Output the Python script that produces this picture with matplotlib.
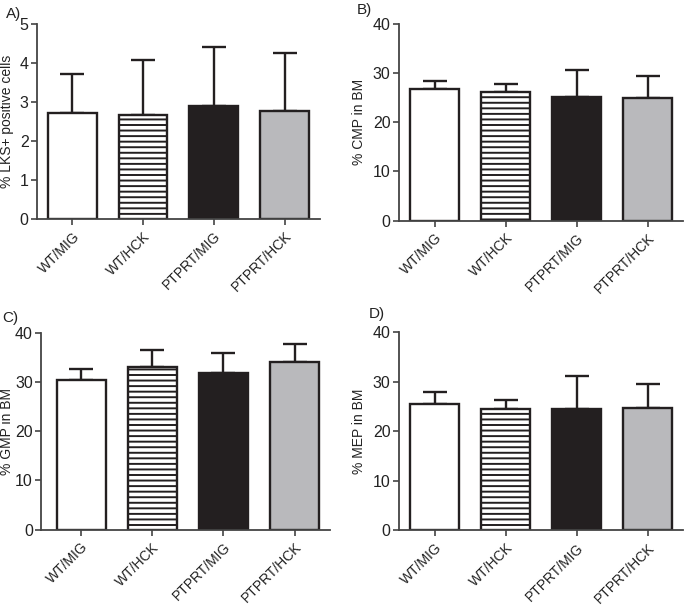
import numpy as np
import matplotlib.pyplot as plt
from matplotlib.transforms import ScaledTranslation

plt.rcParams['font.family'] = ['Liberation Sans', 'DejaVu Sans']
plt.rcParams['hatch.linewidth'] = 1.4
plt.rcParams['hatch.color'] = '#231f20'

# data
groups = ["WT/MIG", "WT/HCK", "PTPRT/MIG", "PTPRT/HCK"]
lks_mean = [2.71, 2.67, 2.88, 2.77]
lks_err = [0.99, 1.40, 1.51, 1.47]
cmp_mean = [26.7, 26.2, 25.2, 24.9]
cmp_err = [1.6, 1.6, 5.3, 4.5]
gmp_mean = [30.4, 33.0, 31.9, 34.1]
gmp_err = [2.2, 3.5, 4.0, 3.7]
mep_mean = [25.5, 24.6, 24.6, 24.8]
mep_err = [2.5, 1.8, 6.6, 4.8]

fills = ["white", "white", "#231f20", "#b9b9bc"]
hatches = [None, "---", None, None]
ink = "#231f20"

fig = plt.figure(figsize=(6.85, 6.06), dpi=100)

# tag, ylabel, data, ymax, step, axes rect, xmin, tag offset (px), ylabel x (px from spine)
panels = [
    ("A)", "% LKS+ positive cells", lks_mean, lks_err, 5, 1,
     [0.054, 0.639, 0.413, 0.322], -0.5, (-16, 10), -23),
    ("B)", "% CMP in BM", cmp_mean, cmp_err, 40, 10,
     [0.5825, 0.636, 0.415, 0.325], -0.5, (-27, 14), -33),
    ("C)", "% GMP in BM", gmp_mean, gmp_err, 40, 10,
     [0.060, 0.126, 0.422, 0.325], -0.563, (-23, 15), -27),
    ("D)", "% MEP in BM", mep_mean, mep_err, 40, 10,
     [0.5825, 0.1254, 0.415, 0.326], -0.5, (-14, 18), -33),
]

x = np.arange(len(groups))
for tag, ylab, mean, err, ymax, step, rect, xmin, off, lx in panels:
    ax = fig.add_axes(rect)
    for i in range(len(groups)):
        ax.bar(x[i], mean[i], width=0.69, color=fills[i], edgecolor=ink,
               linewidth=1.7, hatch=hatches[i], zorder=2)
    ax.errorbar(x, mean, yerr=[np.zeros(len(mean)), err], fmt="none",
                ecolor=ink, elinewidth=1.7, capsize=8.5, capthick=1.7, zorder=1)
    ax.set_xlim(xmin, 3.5)
    ax.set_ylim(0, ymax)
    ax.set_yticks(np.arange(0, ymax + step / 2, step))
    ax.set_xticks(x)
    ax.set_xticklabels(groups, rotation=45, ha="right", rotation_mode="anchor",
                       fontsize=10, color="#222222")
    ax.tick_params(axis="y", labelsize=11.5, colors="#444444", labelcolor="#222222",
                   length=4, width=1.2, pad=2)
    ax.tick_params(axis="x", length=4, width=1.2, colors="#444444", labelcolor="#222222")
    for s in ["top", "right"]:
        ax.spines[s].set_visible(False)
    for s in ["left", "bottom"]:
        ax.spines[s].set_color("#444444")
        ax.spines[s].set_linewidth(1.3)
    ax.set_ylabel(ylab, fontsize=10, color="#222222")
    ax.yaxis.set_label_coords(lx / (rect[2] * 685), 0.5)
    shift = ScaledTranslation(off[0] / 100, off[1] / 100, fig.dpi_scale_trans)
    ax.text(0, 1, tag, transform=ax.transAxes + shift, fontsize=11,
            color="#222222", ha="right", va="center")

fig.savefig("out.png", dpi=100)
